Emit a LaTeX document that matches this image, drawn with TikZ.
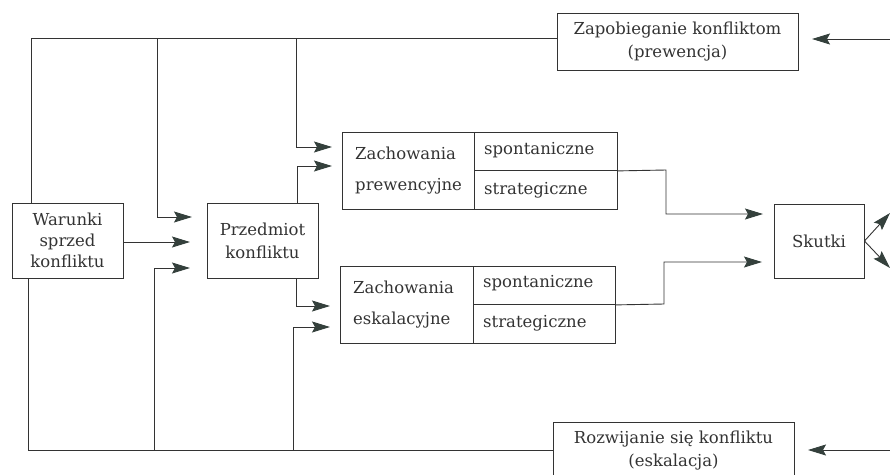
\documentclass[tikz,border=0pt]{standalone}
\usepackage{fontspec}
\setmainfont{DejaVu Serif}
\usetikzlibrary{arrows.meta}
\definecolor{ink}{HTML}{333333}
\definecolor{tipc}{HTML}{34403C}
\tikzset{
  box/.style={draw=ink, line width=0.9pt, inner sep=0pt, text=ink, align=center, font=\fontsize{16.5}{23}\selectfont},
  lbl/.style={inner sep=0pt, text=ink, anchor=west, font=\fontsize{16.5}{23}\selectfont},
  conn/.style={draw=ink, line width=0.9pt},
  arr/.style={conn, -{Stealth[length=18pt,width=11pt,inset=3pt,color=tipc]}},
}
\begin{document}
\begin{tikzpicture}[x=1pt,y=-1pt]
\useasboundingbox (0,0) rectangle (890,474);
\clip (0,0) rectangle (890,474);
% boxes
\node[box, minimum width=111pt, minimum height=75pt] (war) at (67.5,240.5) {Warunki\\[-2pt]sprzed\\[-2pt]konfliktu};
\node[box, minimum width=111pt, minimum height=75pt] (prz) at (262.5,240.5) {Przedmiot\\konfliktu};
\node[box, minimum width=241pt, minimum height=57pt] (zap) at (677.5,41.5) {Zapobieganie konfliktom\\(prewencja)};
\node[box, minimum width=241pt, minimum height=57pt] (roz) at (673.5,450.5) {Rozwijanie się konfliktu\\(eskalacja)};
\node[box, minimum width=90pt, minimum height=74pt] (sk) at (819,241) {Skutki};
% Zachowania prewencyjne
\node[box, minimum width=132pt, minimum height=77pt] (zp) at (408,170.5) {};
\node[box, minimum width=143pt, minimum height=38pt, anchor=north west] (sp1) at (474,132) {};
\node[box, minimum width=143pt, minimum height=39pt, anchor=north west] (st1) at (474,170) {};
\node[lbl] (zpa) at (355,153) {Zachowania};
\node[lbl] (zpb) at (355,186) {prewencyjne};
\node[lbl] (sp1t) at (484,150) {spontaniczne};
\node[lbl] (st1t) at (484,190) {strategiczne};
% Zachowania eskalacyjne
\node[box, minimum width=133pt, minimum height=77pt] (ze) at (406.5,304.5) {};
\node[box, minimum width=142pt, minimum height=38pt, anchor=north west] (sp2) at (473,266) {};
\node[box, minimum width=142pt, minimum height=39pt, anchor=north west] (st2) at (473,304) {};
\node[lbl] (zea) at (353,287) {Zachowania};
\node[lbl] (zeb) at (353,320) {eskalacyjne};
\node[lbl] (sp2t) at (483,283) {spontaniczne};
\node[lbl] (st2t) at (483,323) {strategiczne};
% coordinates
\coordinate (tl) at (31,38);
\coordinate (bl) at (28,450);
\coordinate (zpin1) at (332,147);
\coordinate (zpin2) at (332,166);
\coordinate (zein1) at (330,306);
\coordinate (zein2) at (330,327);
\coordinate (prin1) at (192,217);
\coordinate (prin2) at (190,242);
\coordinate (prin3) at (190,268);
\coordinate (skin1) at (763,214);
\coordinate (skin2) at (762,262);
\coordinate (rt) at (890,39);
\coordinate (rb) at (890,450);
\coordinate (ru) at (890,213);
\coordinate (rd) at (890,268);
% top feedback line
\draw[conn] (zap.west |- tl) -- (tl) -- (war.north -| tl);
\draw[arr] (157,38) -- (157,217) -- (prin1);
\draw[arr] (296,38) -- (296,147) -- (zpin1);
% bottom feedback line
\draw[conn] (roz.west |- bl) -- (bl) -- (war.south -| bl);
\draw[arr] (154,450) -- (154,268) -- (prin3);
\draw[arr] (293,450) -- (293,327) -- (zein2);
% Warunki -> Przedmiot
\draw[arr] (war.east |- prin2) -- (prin2);
% Przedmiot -> Zachowania
\draw[arr] (prz.north -| 297,0) -- (297,166) -- (zpin2);
\draw[arr] (prz.south -| 296,0) -- (296,306) -- (zein1);
% Zachowania -> Skutki
\draw[arr] (sp1.south east) -- (666,170) -- (666,214) -- (skin1);
\draw[arr] (sp2.south east) -- (664,304) -- (664,262) -- (skin2);
% Skutki out
\draw[arr] (sk.east) -- (ru);
\draw[arr] (sk.east) -- (rd);
% incoming from right
\draw[arr] (rt) -- (812,39);
\draw[arr] (rb) -- (808,450);
\end{tikzpicture}
\end{document}
